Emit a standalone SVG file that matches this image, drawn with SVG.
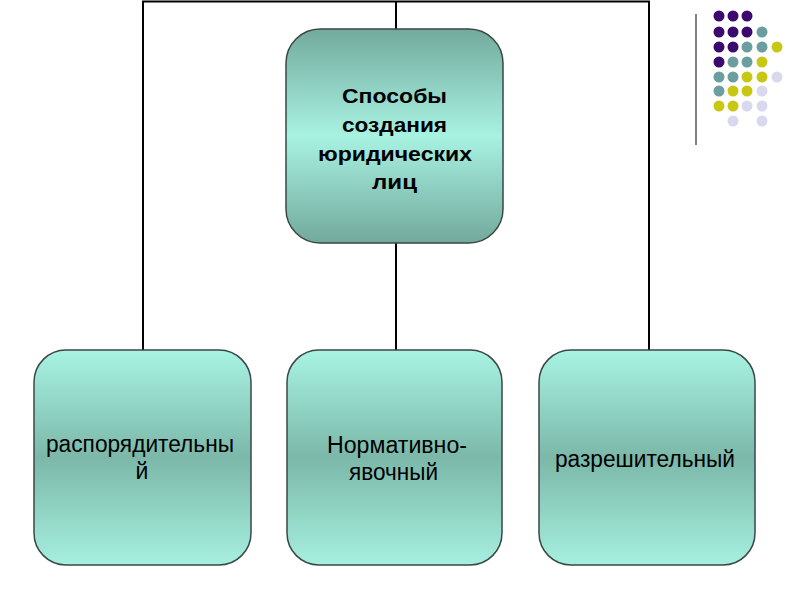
<svg xmlns="http://www.w3.org/2000/svg" width="800" height="600" viewBox="0 0 800 600">
<defs>
<linearGradient id="gTop" x1="0" y1="0" x2="0" y2="1">
<stop offset="0" stop-color="#72aa9d"/>
<stop offset="0.5" stop-color="#a8f2e2"/>
<stop offset="1" stop-color="#72a99c"/>
</linearGradient>
<linearGradient id="gBot" x1="0" y1="0" x2="0" y2="1">
<stop offset="0" stop-color="#a8f3e3"/>
<stop offset="0.5" stop-color="#7bb8a9"/>
<stop offset="1" stop-color="#a6efdf"/>
</linearGradient>
<style>
.box{stroke:#3a4845;stroke-width:1.5}
.t{font-family:"Liberation Sans",Arial,sans-serif;fill:#000;text-anchor:middle}
.b{font-weight:bold;font-size:21px}
.n{font-size:23px}
.con{stroke:#000;stroke-width:2;fill:none}
.p{fill:#3c0a6e}.q{fill:#6b9e9e}.y{fill:#c8c814}.l{fill:#d8d8ee}
</style>
</defs>
<rect width="800" height="600" fill="#fff"/>
<g id="connectors">
<path class="con" d="M143,350 V1.5 H649 V350"/>
<path class="con" d="M396,1.5 V29"/>
<path class="con" d="M396,243 V350"/>
</g>
<g id="root">
<rect class="box" x="286" y="29" width="217" height="214" rx="34" fill="url(#gTop)"/>
<text class="t b" x="394.5" y="103" textLength="105" lengthAdjust="spacingAndGlyphs">Способы</text>
<text class="t b" x="394.5" y="132" textLength="105" lengthAdjust="spacingAndGlyphs">создания</text>
<text class="t b" x="395" y="161" textLength="154" lengthAdjust="spacingAndGlyphs">юридических</text>
<text class="t b" x="394.5" y="189" textLength="45" lengthAdjust="spacingAndGlyphs">лиц</text>
</g>
<g id="n1">
<rect class="box" x="34" y="350" width="217" height="215" rx="32" fill="url(#gBot)"/>
<text class="t n" x="140" y="452" textLength="188" lengthAdjust="spacingAndGlyphs">распорядительны</text>
<text class="t n" x="142" y="479">й</text>
</g>
<g id="n2">
<rect class="box" x="287" y="350" width="215" height="215" rx="32" fill="url(#gBot)"/>
<text class="t n" x="397" y="453" textLength="140" lengthAdjust="spacingAndGlyphs">Нормативно-</text>
<text class="t n" x="393.5" y="480" textLength="89" lengthAdjust="spacingAndGlyphs">явочный</text>
</g>
<g id="n3">
<rect class="box" x="539" y="350" width="216" height="215" rx="32" fill="url(#gBot)"/>
<text class="t n" x="645" y="467" textLength="180" lengthAdjust="spacingAndGlyphs">разрешительный</text>
</g>
<g id="decor">
<line x1="696" y1="14" x2="696" y2="145" stroke="#808080" stroke-width="2"/>
<circle class="p" cx="719" cy="16" r="5.5"/><circle class="p" cx="733" cy="16" r="5.5"/><circle class="p" cx="747" cy="16" r="5.5"/>
<circle class="p" cx="719" cy="32" r="5.5"/><circle class="p" cx="733" cy="32" r="5.5"/><circle class="p" cx="747" cy="32" r="5.5"/><circle class="q" cx="762" cy="32" r="5.5"/>
<circle class="p" cx="719" cy="47" r="5.5"/><circle class="p" cx="733" cy="47" r="5.5"/><circle class="q" cx="747" cy="47" r="5.5"/><circle class="q" cx="762" cy="47" r="5.5"/><circle class="y" cx="777" cy="47" r="5.5"/>
<circle class="p" cx="719" cy="62" r="5.5"/><circle class="q" cx="733" cy="62" r="5.5"/><circle class="q" cx="747" cy="62" r="5.5"/><circle class="y" cx="762" cy="62" r="5.5"/>
<circle class="q" cx="719" cy="77" r="5.5"/><circle class="q" cx="733" cy="77" r="5.5"/><circle class="y" cx="747" cy="77" r="5.5"/><circle class="y" cx="762" cy="77" r="5.5"/><circle class="l" cx="777" cy="77" r="5.5"/>
<circle class="q" cx="719" cy="91" r="5.5"/><circle class="y" cx="733" cy="91" r="5.5"/><circle class="y" cx="747" cy="91" r="5.5"/><circle class="l" cx="762" cy="91" r="5.5"/>
<circle class="y" cx="719" cy="106" r="5.5"/><circle class="y" cx="733" cy="106" r="5.5"/><circle class="l" cx="747" cy="106" r="5.5"/><circle class="l" cx="762" cy="106" r="5.5"/>
<circle class="l" cx="733" cy="121" r="5.5"/><circle class="l" cx="762" cy="121" r="5.5"/>
</g>
</svg>
